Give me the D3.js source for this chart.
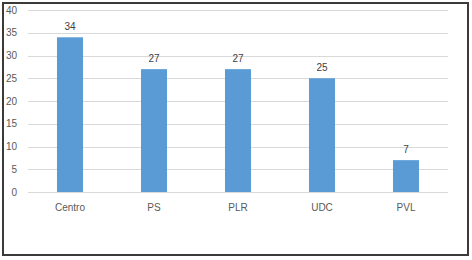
<!DOCTYPE html>
<html>
<head>
<meta charset="utf-8">
<script src="https://cdn.jsdelivr.net/npm/d3@7"></script>
<style>
  body { margin: 0; background: #fff; }
  text { font-family: "Liberation Sans", Arial, sans-serif; }
</style>
</head>
<body>
<div id="chart"></div>
<script>
var categories = ["Centro", "PS", "PLR", "UDC", "PVL"];
var values = [34, 27, 27, 25, 7];
var yTicks = [0, 5, 10, 15, 20, 25, 30, 35, 40];

var width = 472, height = 260;
var margin = {top: 10, right: 24, bottom: 68, left: 28};

var svg = d3.select("#chart").append("svg")
	.attr("width", width)
	.attr("height", height);

// outer frame
svg.append("rect")
	.attr("x", 3).attr("y", 3)
	.attr("width", 465).attr("height", 252)
	.attr("fill", "#fff")
	.attr("stroke", "#3a3a3a")
	.attr("stroke-width", 2);

var x = d3.scaleBand()
	.domain(categories)
	.range([margin.left, width - margin.right])
	.paddingInner(0.69)
	.paddingOuter(0.345);

var y = d3.scaleLinear()
	.domain([0, 40])
	.range([height - margin.bottom, margin.top]);

// gridlines
svg.append("g").selectAll("line")
	.data(yTicks)
	.enter().append("line")
	.attr("x1", margin.left)
	.attr("x2", width - margin.right)
	.attr("y1", function(d) { return Math.round(y(d)) + 0.5; })
	.attr("y2", function(d) { return Math.round(y(d)) + 0.5; })
	.attr("stroke", "#d9d9d9")
	.attr("stroke-width", 1);

// y labels
svg.append("g").selectAll("text")
	.data(yTicks)
	.enter().append("text")
	.attr("x", 17)
	.attr("y", function(d) { return y(d); })
	.attr("dy", "0.35em")
	.attr("text-anchor", "end")
	.attr("font-size", "10px")
	.attr("fill", "#595959")
	.text(function(d) { return d; });

// bars
svg.append("g").selectAll("rect")
	.data(values)
	.enter().append("rect")
	.attr("x", function(d, i) { return x(categories[i]); })
	.attr("y", function(d) { return y(d); })
	.attr("width", x.bandwidth())
	.attr("height", function(d) { return y(0) - y(d); })
	.attr("fill", "#5b9bd5");

// value labels
svg.append("g").selectAll("text")
	.data(values)
	.enter().append("text")
	.attr("x", function(d, i) { return x(categories[i]) + x.bandwidth() / 2; })
	.attr("y", function(d) { return y(d) - 7; })
	.attr("text-anchor", "middle")
	.attr("font-size", "10px")
	.attr("fill", "#404040")
	.text(function(d) { return d; });

// category labels
svg.append("g").selectAll("text")
	.data(categories)
	.enter().append("text")
	.attr("x", function(d) { return x(d) + x.bandwidth() / 2; })
	.attr("y", y(0) + 19)
	.attr("text-anchor", "middle")
	.attr("font-size", "10px")
	.attr("fill", "#595959")
	.text(function(d) { return d; });
</script>
</body>
</html>
